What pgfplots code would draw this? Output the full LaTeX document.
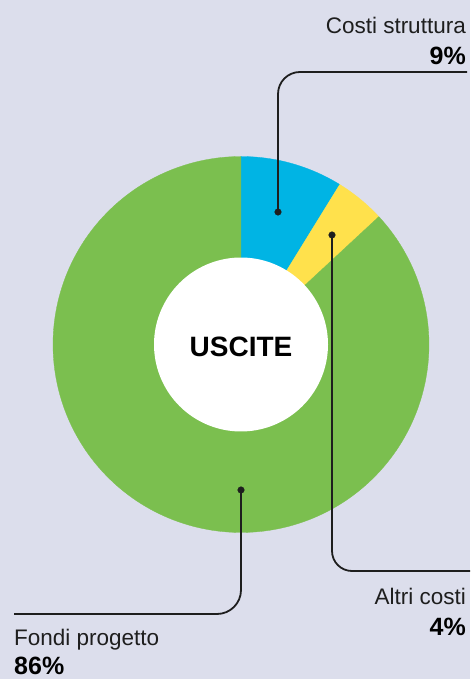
\documentclass[border=0pt]{standalone}
\usepackage{pgfplots}
\pgfplotsset{compat=1.18}
\usepackage{fontspec}
\setmainfont{Liberation Sans}
\definecolor{bg}{HTML}{DCDEEC}
\definecolor{cblue}{HTML}{00B4E4}
\definecolor{cyellow}{HTML}{FFE14C}
\definecolor{cgreen}{HTML}{7BBF4F}
\definecolor{ink}{HTML}{1E1E1E}
\begin{document}
\begin{tikzpicture}
% slice values (percent, clockwise from top)
\def\vA{8.8}\def\vB{4.3}\def\vC{86.9}
\pgfmathsetmacro{\tot}{\vA+\vB+\vC}
\pgfmathsetmacro{\aA}{90}
\pgfmathsetmacro{\aB}{90-3.6*(\vA/\tot)*100}
\pgfmathsetmacro{\aC}{\aB-3.6*(\vB/\tot)*100}
\pgfmathsetmacro{\aD}{\aC-3.6*(\vC/\tot)*100}
\def\cx{241}\def\cy{334.5}\def\R{188}\def\r{87}
\begin{axis}[scale only axis, width=470pt, height=679pt,
  xmin=0, xmax=470, ymin=0, ymax=679, hide axis, clip=false]
\addplot[fill=bg, draw=none] coordinates {(0,0) (470,0) (470,679) (0,679)} -- cycle;
\addplot[fill=cblue, draw=cblue, line width=0.3pt, domain=\aB:\aA, samples=40]
  ({\cx+\R*cos(x)},{\cy+\R*sin(x)}) -- (axis cs:\cx,\cy) -- cycle;
\addplot[fill=cyellow, draw=cyellow, line width=0.3pt, domain=\aC:\aB, samples=20]
  ({\cx+\R*cos(x)},{\cy+\R*sin(x)}) -- (axis cs:\cx,\cy) -- cycle;
\addplot[fill=cgreen, draw=cgreen, line width=0.3pt, domain=\aD:\aC, samples=200]
  ({\cx+\R*cos(x)},{\cy+\R*sin(x)}) -- (axis cs:\cx,\cy) -- cycle;
\addplot[fill=white, draw=none, domain=0:360, samples=150]
  ({\cx+\r*cos(x)},{\cy+\r*sin(x)}) -- cycle;
% leader lines
\addplot[ink, line width=1.8pt, rounded corners=22pt] coordinates {(278,467) (278,607) (467,607)};
\addplot[ink, line width=1.8pt, rounded corners=20pt] coordinates {(332,444) (332,108) (470,108)};
\addplot[ink, line width=1.8pt, rounded corners=24pt] coordinates {(241,189) (241,65) (14,65)};
\addplot[ink, only marks, mark=*, mark size=3.3pt] coordinates {(278,467) (332,444) (241,189)};
% labels
\node[anchor=base east, font=\fontsize{22.5}{26}\selectfont, text=ink, inner sep=0pt] at (axis cs:466,645) {Costi struttura};
\node[anchor=base east, font=\fontsize{25}{30}\selectfont\bfseries, text=black, inner sep=0pt] at (axis cs:466,614) {9\%};
\node[anchor=base east, font=\fontsize{22.5}{26}\selectfont, text=ink, inner sep=0pt] at (axis cs:466,74) {Altri costi};
\node[anchor=base east, font=\fontsize{25}{30}\selectfont\bfseries, text=black, inner sep=0pt] at (axis cs:466,43) {4\%};
\node[anchor=base west, font=\fontsize{22.5}{26}\selectfont, text=ink, inner sep=0pt] at (axis cs:14,33) {Fondi progetto};
\node[anchor=base west, font=\fontsize{25}{30}\selectfont\bfseries, text=black, inner sep=0pt] at (axis cs:14,5) {86\%};
\node[font=\fontsize{28}{32}\selectfont\bfseries, text=black, inner sep=0pt] at (axis cs:241,332) {USCITE};
\end{axis}
\end{tikzpicture}
\end{document}
